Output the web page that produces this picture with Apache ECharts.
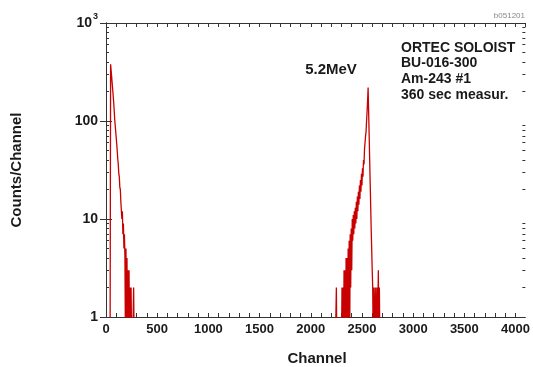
<!DOCTYPE html>
<html>
<head>
<meta charset="utf-8">
<script src="https://cdn.jsdelivr.net/npm/echarts@6/dist/echarts.min.js"></script>
<style>
  html, body { margin: 0; padding: 0; background: #fff; }
  #chart { width: 533px; height: 367px; }
</style>
</head>
<body>
<div id="chart"></div>
<script>
// Spectrum, counts per channel, sampled every 5 channels
const binWidth = 5;

// Low-energy noise edge, channel 40 .. 275
const lowStart = 40;
const lowCounts = [
  0, 380, 330, 285, 245, 212, 182, 156, 128, 104,
  90, 78, 67, 58, 49, 41, 36, 29, 27, 21,
  20, 15, 15, 10, 12, 7, 9, 5, 7, 4,
  0, 5, 0, 4, 0, 3, 0, 3, 0, 2,
  0, 2, 0, 1, 0, 0, 2, 0
];

// 5.2 MeV alpha peak, channel 2240 .. 2680
const peakStart = 2240;
const peakCounts = [
  0, 0, 2, 0, 0, 0, 0, 0, 0, 0,
  0, 1, 0, 2, 0, 2, 0, 3, 0, 3,
  0, 4, 0, 4, 0, 5, 1, 6, 0, 7,
  2, 8, 3, 10, 6, 11, 7, 12, 8, 13,
  9, 15, 10, 17, 12, 19, 14, 22, 16, 25,
  19, 29, 22, 33, 27, 40, 36, 52, 50, 70,
  78, 100, 125, 160, 220, 128, 74, 42, 24, 14,
  8, 5, 3, 2, 0, 2, 0, 1, 2, 0,
  0, 2, 0, 0, 3, 0, 2, 0, 0
];

const xLabelStep = 500;
const yMinorTicks = [2, 3, 4, 5, 6, 7, 8, 9, 20, 30, 40, 50, 60, 70, 80, 90, 200, 300, 400, 500, 600, 700, 800, 900];

const chartDom = document.getElementById('chart');
const chart = echarts.init(chartDom, null, { renderer: 'canvas' });

// zero counts sit below the log axis floor and get clipped
const toPoints = (start, counts) => counts.map((c, i) => [start + i * binWidth, c > 0 ? c : 0.5]);

const textColor = '#1a1a1a';
const frameColor = '#333';
const lineColor = '#c80000';
const font = 'Liberation Sans, Arial, sans-serif';

const baseX = {
  type: 'value',
  min: 0,
  max: 4096,
  interval: 100,
  axisLine: { show: true, onZero: false, lineStyle: { color: frameColor, width: 1 } },
  axisTick: { show: true, inside: true, length: 4, lineStyle: { color: frameColor } },
  splitLine: { show: false }
};

const baseY = {
  type: 'log',
  logBase: 10,
  min: 1,
  max: 1000,
  axisLine: { show: true, lineStyle: { color: frameColor, width: 1 } },
  axisTick: { show: true, inside: true, length: 6, lineStyle: { color: frameColor } },
  splitLine: { show: false }
};

const minorY = (position) => ({
  ...baseY,
  position,
  axisLine: { show: false },
  axisLabel: { show: false },
  axisTick: { show: true, inside: true, length: 3, customValues: yMinorTicks, lineStyle: { color: frameColor } }
});

const option = {
  animation: false,
  backgroundColor: '#fff',
  grid: { left: 106, right: 6, top: 23, bottom: 50, containLabel: false },
  xAxis: [
    {
      ...baseX,
      position: 'bottom',
      axisLabel: {
        show: true,
        margin: 6,
        showMaxLabel: false,
        color: textColor,
        fontFamily: font,
        fontWeight: 'bold',
        fontSize: 13,
        formatter: (v) => (v % xLabelStep === 0 ? String(v) : '')
      }
    },
    { ...baseX, position: 'top', axisLabel: { show: false } }
  ],
  yAxis: [
    {
      ...baseY,
      position: 'left',
      axisLabel: {
        margin: 8,
        color: textColor,
        fontFamily: font,
        fontWeight: 'bold',
        fontSize: 14,
        formatter: (v) => (v === 1000 ? '{a|10}{b|3}' : String(v)),
        rich: {
          a: { fontFamily: font, fontWeight: 'bold', fontSize: 14, color: textColor, padding: [4, 0, 4, 0] },
          b: { fontFamily: font, fontWeight: 'bold', fontSize: 9, color: textColor, verticalAlign: 'top', padding: [0, 0, 0, 1] }
        }
      }
    },
    { ...baseY, position: 'right', axisLabel: { show: false } },
    minorY('left'),
    minorY('right')
  ],
  series: [
    {
      type: 'line',
      data: toPoints(lowStart, lowCounts),
      showSymbol: false,
      symbol: 'none',
      clip: true,
      lineStyle: { color: lineColor, width: 1.3 }
    },
    {
      type: 'line',
      data: toPoints(peakStart, peakCounts),
      showSymbol: false,
      symbol: 'none',
      clip: true,
      lineStyle: { color: lineColor, width: 1.3 }
    }
  ],
  graphic: [
    {
      type: 'text', x: 17, y: 170, rotation: Math.PI / 2,
      style: { text: 'Counts/Channel', font: 'bold 15px ' + font, fill: textColor, align: 'center', verticalAlign: 'middle' }
    },
    {
      type: 'text', x: 317, y: 359,
      style: { text: 'Channel', font: 'bold 15px ' + font, fill: textColor, align: 'center', verticalAlign: 'middle' }
    },
    {
      type: 'text', x: 331, y: 70,
      style: { text: '5.2MeV', font: 'bold 15px ' + font, fill: textColor, align: 'center', verticalAlign: 'middle' }
    },
    {
      type: 'text', x: 401, y: 40,
      style: {
        text: 'ORTEC SOLOIST\nBU-016-300\nAm-243 #1\n360 sec measur.',
        font: 'bold 14px ' + font, lineHeight: 15.7, fill: textColor, align: 'left', verticalAlign: 'top'
      }
    },
    {
      type: 'text', x: 525, y: 16,
      style: { text: 'b051201', font: '8px ' + font, fill: '#888', align: 'right', verticalAlign: 'middle' }
    }
  ]
};

chart.setOption(option);
</script>
</body>
</html>
